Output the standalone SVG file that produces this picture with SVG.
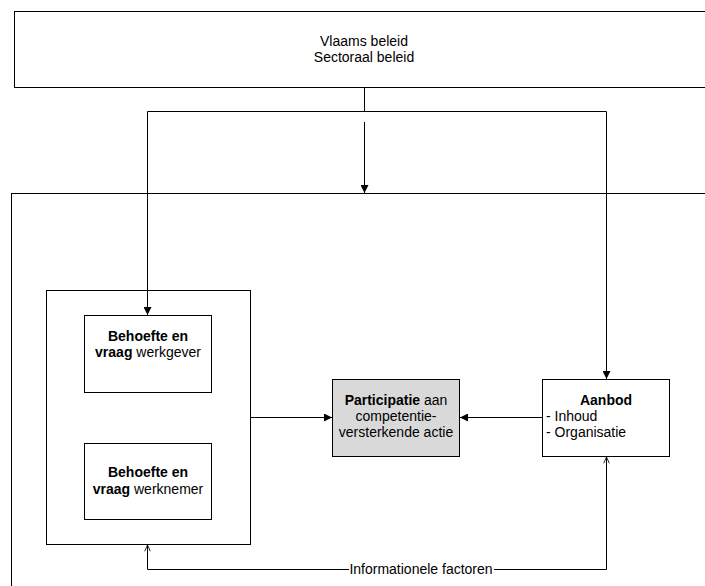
<svg xmlns="http://www.w3.org/2000/svg" width="705" height="586" viewBox="0 0 705 586">
<style>
.box{fill:#fff;stroke:#000;stroke-width:1}
.grey{fill:#d9d9d9;stroke:#000;stroke-width:1}
.ln{fill:none;stroke:#000;stroke-width:1}
text{font-family:"Liberation Sans",Arial,sans-serif;font-size:14px;fill:#000}
.c{text-anchor:middle}
.b{font-weight:bold}
</style>
<defs>
<marker id="fa" viewBox="0 0 10 10" refX="10" refY="5" markerWidth="9" markerHeight="8" markerUnits="userSpaceOnUse" orient="auto">
<path d="M0,0 L10,5 L0,10 Z" fill="#000"/>
</marker>
<marker id="oa" viewBox="0 0 10 10" refX="10" refY="5" markerWidth="7" markerHeight="8" markerUnits="userSpaceOnUse" orient="auto">
<path d="M1,1 L10,5 L1,9" fill="none" stroke="#000" stroke-width="1.2"/>
</marker>
</defs>
<g id="outer"><rect class="box" x="11.5" y="193.5" width="720" height="420"/></g>
<g id="beleid">
<rect class="box" x="14.5" y="11.5" width="720" height="76"/>
<text class="c" x="364" y="46">Vlaams beleid</text>
<text class="c" x="364" y="62">Sectoraal beleid</text>
</g>
<g id="vraag">
<rect class="box" x="46.5" y="290.5" width="204" height="254"/>
</g>
<g id="werkgever">
<rect class="box" x="84.5" y="315.5" width="127" height="77"/>
<text class="c" x="148" y="341"><tspan class="b">Behoefte en</tspan></text>
<text class="c" x="148" y="357"><tspan class="b">vraag</tspan> werkgever</text>
</g>
<g id="werknemer">
<rect class="box" x="84.5" y="443.5" width="127" height="76"/>
<text class="c" x="148" y="477"><tspan class="b">Behoefte en</tspan></text>
<text class="c" x="148" y="494"><tspan class="b">vraag</tspan> werknemer</text>
</g>
<g id="participatie">
<rect class="grey" x="332.5" y="379.5" width="127" height="77"/>
<text class="c" x="396" y="405"><tspan class="b">Participatie</tspan> aan</text>
<text class="c" x="396" y="421">competentie-</text>
<text class="c" x="396" y="437">versterkende actie</text>
</g>
<g id="aanbod">
<rect class="box" x="542.5" y="379.5" width="127" height="77"/>
<text class="c b" x="606" y="405">Aanbod</text>
<text x="546" y="421">- Inhoud</text>
<text x="546" y="437">- Organisatie</text>
</g>
<g id="connectors">
<path class="ln" d="M364.5,87.5 V111.5 M147.5,111.5 H606.5"/>
<path class="ln" d="M364.5,122 V193" marker-end="url(#fa)"/>
<path class="ln" d="M147.5,111.5 V315" marker-end="url(#fa)"/>
<path class="ln" d="M606.5,111.5 V379" marker-end="url(#fa)"/>
<path class="ln" d="M250.5,417.5 H332" marker-end="url(#fa)"/>
<path class="ln" d="M542,417.5 H460" marker-end="url(#fa)"/>
<path class="ln" d="M421,569.5 H606.5 V457" marker-end="url(#oa)"/>
<path class="ln" d="M421,569.5 H147.5 V545" marker-end="url(#oa)"/>
<rect x="349" y="562" width="145" height="14" fill="#fff"/>
<text class="c" x="421" y="574">Informationele factoren</text>
</g>
</svg>
